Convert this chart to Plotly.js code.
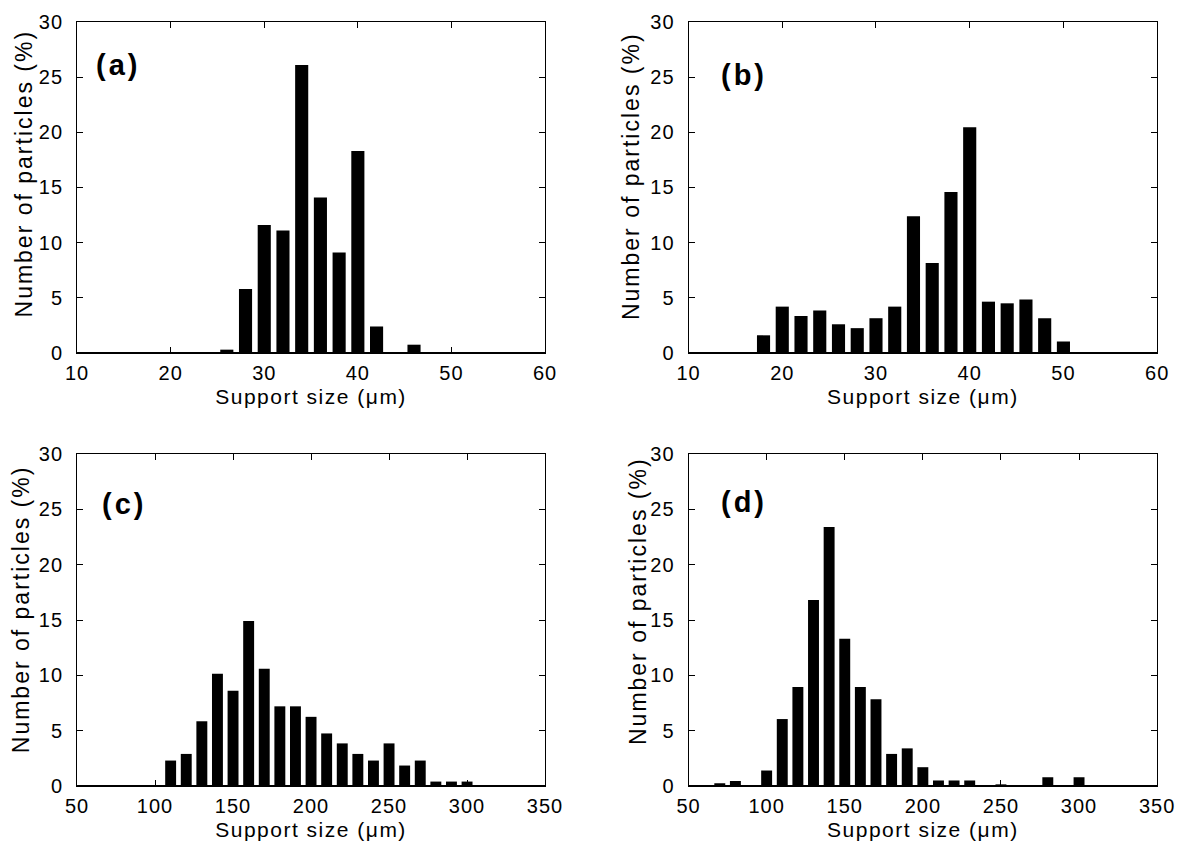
<!DOCTYPE html>
<html>
<head>
<meta charset="utf-8">
<script src="https://cdn.plot.ly/plotly-3.0.1.min.js"></script>
<style>
  html, body { margin: 0; padding: 0; background: #fff; }
  #chart { width: 1178px; height: 842px; }
  .xtick text, .ytick text, .x2tick text, .y2tick text, .x3tick text, .y3tick text, .x4tick text, .y4tick text { letter-spacing: 1px; }
  .g-xtitle text, .g-x2title text, .g-x3title text, .g-x4title text { letter-spacing: 1.5px; }
  .annotation-text { letter-spacing: 3px; }
</style>
</head>
<body>
<div id="chart"></div>
<script>
// Panel (a)
const sizesA = [26, 28, 30, 32, 34, 36, 38, 40, 42, 44, 46];
const pctA   = [0.3, 5.8, 11.6, 11.1, 26.1, 14.1, 9.1, 18.3, 2.4, 0, 0.75];
// Panel (b)
const sizesB = [18, 20, 22, 24, 26, 28, 30, 32, 34, 36, 38, 40, 42, 44, 46, 48, 50];
const pctB   = [1.6, 4.2, 3.35, 3.85, 2.6, 2.25, 3.15, 4.2, 12.4, 8.15, 14.6, 20.45, 4.65, 4.5, 4.85, 3.15, 1.05];
// Panel (c)
const sizesC = [110, 120, 130, 140, 150, 160, 170, 180, 190, 200, 210, 220, 230, 240, 250, 260, 270, 280, 290, 300];
const pctC   = [2.3, 2.9, 5.85, 10.15, 8.6, 14.9, 10.6, 7.2, 7.2, 6.25, 4.75, 3.85, 2.9, 2.3, 3.85, 1.85, 2.3, 0.4, 0.4, 0.4];
// Panel (d)
const sizesD = [70, 80, 90, 100, 110, 120, 130, 140, 150, 160, 170, 180, 190, 200, 210, 220, 230, 240, 250, 260, 270, 280, 290, 300];
const pctD   = [0.25, 0.45, 0, 1.4, 6.05, 8.95, 16.8, 23.4, 13.3, 8.95, 7.85, 2.9, 3.4, 1.7, 0.5, 0.5, 0.5, 0, 0.15, 0, 0, 0.8, 0, 0.8];

const panelLabels = ['(a)', '(b)', '(c)', '(d)'];
const xTitle = 'Support size (μm)';
const yTitle = 'Number of particles (%)';
const yTicks = [0, 5, 10, 15, 20, 25, 30];

const FONT = 'Liberation Sans, Arial, Helvetica, sans-serif';

function bar(x, y, xa, ya) {
  return { type: 'bar', x: x, y: y, xaxis: xa, yaxis: ya,
    marker: { color: '#000', line: { width: 0 } }, hoverinfo: 'x+y', showlegend: false };
}

const data = [
  bar(sizesA, pctA, 'x', 'y'),
  bar(sizesB, pctB, 'x2', 'y2'),
  bar(sizesC, pctC, 'x3', 'y3'),
  bar(sizesD, pctD, 'x4', 'y4')
];

function xAxis(domain, range, dtick, anchor) {
  return {
    domain: domain, range: range, dtick: dtick, tick0: range[0], anchor: anchor,
    ticks: 'inside', ticklen: 6, tickwidth: 1, tickcolor: '#000',
    showline: true, linecolor: '#000', linewidth: 1, mirror: 'ticks',
    showgrid: false, zeroline: false, fixedrange: true,
    tickfont: { family: FONT, size: 20, color: '#000' },
    ticklabelstandoff: 2,
    title: { text: xTitle, font: { family: FONT, size: 21, color: '#000' }, standoff: 6 }
  };
}
function yAxis(domain, anchor) {
  return {
    domain: domain, range: [0, 30], tickvals: yTicks, anchor: anchor,
    ticks: 'inside', ticklen: 6, tickwidth: 1, tickcolor: '#000',
    showline: true, linecolor: '#000', linewidth: 1, mirror: 'ticks',
    showgrid: false, zeroline: false, fixedrange: true,
    tickfont: { family: FONT, size: 20, color: '#000' },
    ticklabelstandoff: 9
  };
}

const colL = [0.0654, 0.4627];
const colR = [0.5845, 0.9823];
const rowT = [0.5808, 0.9739];
const rowB = [0.0665, 0.4608];

const labelPos = [
  { x: 0.036, y: 0.925 },
  { x: 0.066, y: 0.893 },
  { x: 0.050, y: 0.905 },
  { x: 0.064, y: 0.910 }
];
const yTitlePos = [
  { x: 0.0204, y: 0.794 },
  { x: 0.5357, y: 0.791 },
  { x: 0.0180, y: 0.2767 },
  { x: 0.5416, y: 0.2862 }
];
const axisIds = ['', '2', '3', '4'];

const annotations = panelLabels.map((t, i) => ({
  text: '<b>' + t + '</b>', showarrow: false,
  xref: 'x' + axisIds[i] + ' domain', yref: 'y' + axisIds[i] + ' domain',
  x: labelPos[i].x, y: labelPos[i].y, xanchor: 'left', yanchor: 'top',
  font: { family: FONT, size: 29, color: '#000' }
})).concat(yTitlePos.map(p => ({
  text: '<span style="letter-spacing:2px">' + yTitle + '</span>', showarrow: false,
  xref: 'paper', yref: 'paper', x: p.x, y: p.y, xanchor: 'center', yanchor: 'middle',
  textangle: -90,
  font: { family: FONT, size: 23, color: '#000' }
})));

const shapes = axisIds.map(id => ({
  type: 'line', xref: 'x' + id + ' domain', yref: 'y' + id + ' domain',
  x0: 0, x1: 1, y0: 0, y1: 0, line: { color: '#000', width: 2 }
}));

const layout = {
  width: 1178, height: 842,
  margin: { l: 0, r: 0, t: 0, b: 0 },
  paper_bgcolor: '#fff', plot_bgcolor: '#fff',
  bargap: 0.3,
  font: { family: FONT, color: '#000' },
  xaxis: xAxis(colL, [10, 60], 10, 'y'),
  yaxis: yAxis(rowT, 'x'),
  xaxis2: xAxis(colR, [10, 60], 10, 'y2'),
  yaxis2: yAxis(rowT, 'x2'),
  xaxis3: xAxis(colL, [50, 350], 50, 'y3'),
  yaxis3: yAxis(rowB, 'x3'),
  xaxis4: xAxis(colR, [50, 350], 50, 'y4'),
  yaxis4: yAxis(rowB, 'x4'),
  annotations: annotations,
  shapes: shapes
};

Plotly.newPlot('chart', data, layout, { staticPlot: true, displayModeBar: false });
</script>
</body>
</html>
